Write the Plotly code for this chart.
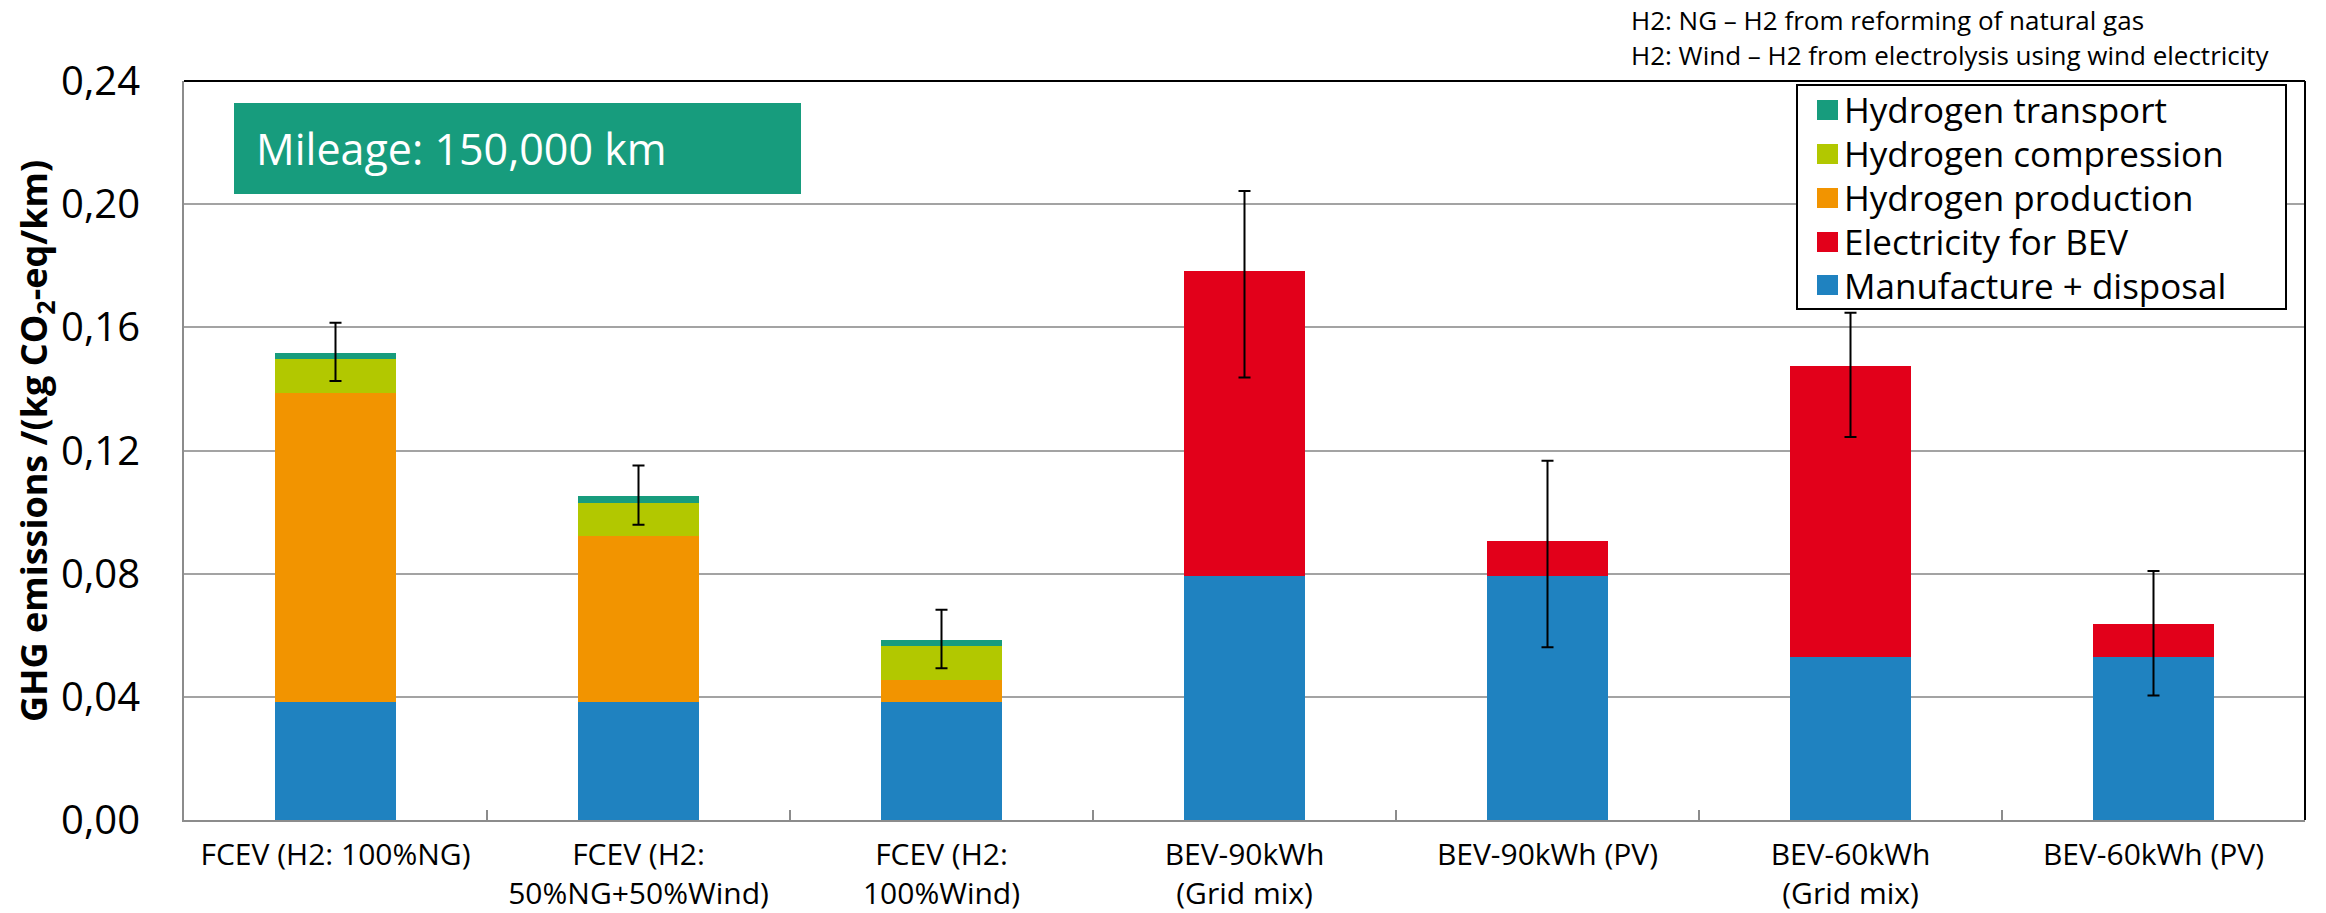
import plotly.graph_objects as go

# --- data -------------------------------------------------------------------
categories = [
    "FCEV (H2: 100%NG)",
    "FCEV (H2:<br>50%NG+50%Wind)",
    "FCEV (H2:<br>100%Wind)",
    "BEV-90kWh<br>(Grid mix)",
    "BEV-90kWh (PV)",
    "BEV-60kWh<br>(Grid mix)",
    "BEV-60kWh (PV)",
]

manufacture = [0.0384, 0.0384, 0.0383, 0.0794, 0.0794, 0.0529, 0.0528]
electricity = [0.0, 0.0, 0.0, 0.0989, 0.0112, 0.0944, 0.0107]
h2_production = [0.1004, 0.0539, 0.0072, 0.0, 0.0, 0.0, 0.0]
h2_compression = [0.0109, 0.0108, 0.0109, 0.0, 0.0, 0.0, 0.0]
h2_transport = [0.0019, 0.0020, 0.0020, 0.0, 0.0, 0.0, 0.0]

# uncertainty range of the total (lower / upper bound)
err_low = [0.1426, 0.0959, 0.0493, 0.1437, 0.0561, 0.1244, 0.0404]
err_high = [0.1615, 0.1151, 0.0683, 0.2043, 0.1167, 0.1647, 0.0809]

series_names = ["Manufacture + disposal", "Electricity for BEV", "Hydrogen production",
                "Hydrogen compression", "Hydrogen transport"]
series_colors = ["#1f82c0", "#e2001a", "#f29400", "#b2c800", "#179c7d"]

y_ticks = [0.00, 0.04, 0.08, 0.12, 0.16, 0.20, 0.24]

# --- styling ----------------------------------------------------------------
W, H = 2326, 913
M_L, M_R, M_T, M_B = 184, 21, 81, 93
FONT = "Open Sans, sans-serif"
GRID = "#a3a3a3"
AXIS = "#8c8c8c"


def px_x(px):
    return (px - M_L) / (W - M_L - M_R)


def px_y(py):
    return (H - M_B - py) / (H - M_T - M_B)


fig = go.Figure()

stack = [manufacture, electricity, h2_production, h2_compression, h2_transport]
for name, color, vals in zip(series_names, series_colors, stack):
    fig.add_trace(go.Bar(
        x=categories, y=vals, name=name,
        marker=dict(color=color, line=dict(width=0)),
        showlegend=False,
    ))

totals = [sum(v) for v in zip(*stack)]
fig.add_trace(go.Scatter(
    x=categories, y=totals, mode="markers",
    marker=dict(size=1, color="rgba(0,0,0,0)"),
    error_y=dict(
        type="data", symmetric=False,
        array=[h - t for h, t in zip(err_high, totals)],
        arrayminus=[t - l for t, l in zip(totals, err_low)],
        color="black", thickness=2, width=6,
    ),
    showlegend=False, hoverinfo="skip",
))

shapes = []
annotations = []

# frame: top and right border
shapes.append(dict(type="line", xref="paper", yref="paper", x0=0, x1=1, y0=1, y1=1,
                   line=dict(color="black", width=2)))
shapes.append(dict(type="line", xref="paper", yref="paper", x0=1, x1=1, y0=0, y1=1,
                   line=dict(color="black", width=2)))

# mileage banner
shapes.append(dict(type="rect", xref="paper", yref="paper",
                   x0=px_x(234), x1=px_x(801), y0=px_y(194), y1=px_y(103),
                   fillcolor="#179c7d", line=dict(width=0)))
annotations.append(dict(xref="paper", yref="paper", x=px_x(254), y=px_y(148),
                        xanchor="left", yanchor="middle", showarrow=False,
                        text="Mileage: 150,000 km",
                        font=dict(family=FONT, size=43, color="white")))

# legend box
shapes.append(dict(type="rect", xref="paper", yref="paper",
                   x0=px_x(1797), x1=px_x(2286), y0=px_y(309), y1=px_y(85),
                   fillcolor="white", line=dict(color="black", width=2)))
legend_rows = [110, 154, 198, 242, 285]
for row_y, name, color in zip(legend_rows, series_names[::-1], series_colors[::-1]):
    shapes.append(dict(type="rect", xref="paper", yref="paper",
                       x0=px_x(1817), x1=px_x(1838), y0=px_y(row_y + 10), y1=px_y(row_y - 10),
                       fillcolor=color, line=dict(width=0)))
    annotations.append(dict(xref="paper", yref="paper", x=px_x(1842), y=px_y(row_y),
                            xanchor="left", yanchor="middle", showarrow=False, text=name,
                            font=dict(family=FONT, size=35, color="black")))

# notes on abbreviations
for row_y, txt in [(20, "H2: NG \u2013 H2 from reforming of natural gas"),
                   (55, "H2: Wind \u2013 H2 from electrolysis using wind electricity")]:
    annotations.append(dict(xref="paper", yref="paper", x=px_x(1629), y=px_y(row_y),
                            xanchor="left", yanchor="middle", showarrow=False, text=txt,
                            font=dict(family=FONT, size=26, color="black")))

# y-axis title
annotations.append(dict(xref="paper", yref="paper", x=px_x(35), y=px_y(441),
                        xanchor="center", yanchor="middle", showarrow=False, textangle=-90,
                        text="GHG emissions /(kg CO<sub>2</sub>-eq/km)",
                        font=dict(family=FONT, size=36, color="black", weight="bold")))

fig.update_layout(
    width=W, height=H,
    margin=dict(l=M_L, r=M_R, t=M_T, b=M_B, autoexpand=False),
    barmode="stack", bargap=0.6,
    plot_bgcolor="white", paper_bgcolor="white",
    separators=",.",
    showlegend=False,
    shapes=shapes, annotations=annotations,
    xaxis=dict(
        type="category", showline=True, linecolor=AXIS, linewidth=2,
        ticks="inside", tickson="boundaries", ticklen=10, tickwidth=2, tickcolor=AXIS,
        showgrid=False, tickangle=0,
        tickfont=dict(family=FONT, size=30, color="black"),
        ticklabelstandoff=7,
    ),
    yaxis=dict(
        range=[0, 0.24], tickvals=y_ticks, tickformat=".2f",
        showline=True, linecolor=AXIS, linewidth=2,
        showgrid=True, gridcolor=GRID, gridwidth=2,
        ticks="", zeroline=False,
        tickfont=dict(family=FONT, size=40, color="black"),
        ticklabelstandoff=34,
    ),
)

fig.write_html("out.html")
